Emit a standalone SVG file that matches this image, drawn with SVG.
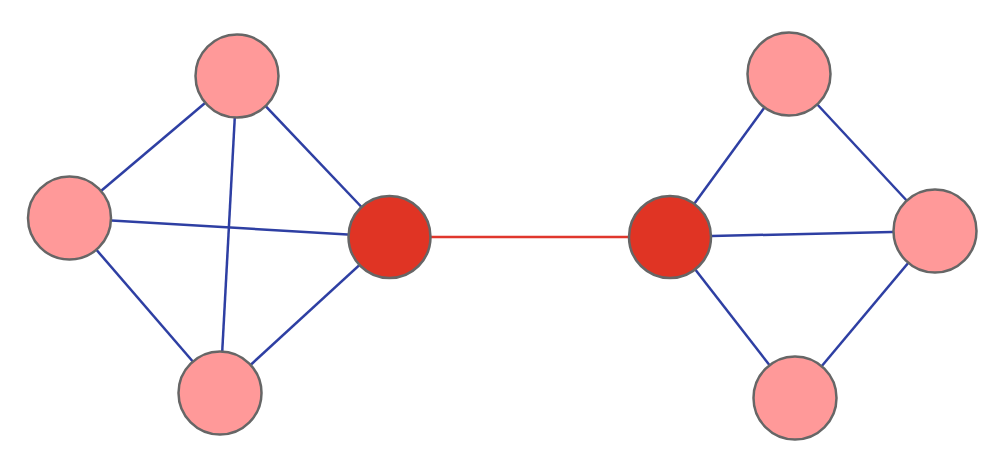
<svg xmlns="http://www.w3.org/2000/svg" width="997" height="451" viewBox="0 0 997 451">
<style>
.e{stroke:#2e3fa3;stroke-width:2.5;fill:none}
.b{stroke:#e0372c;stroke-width:2.5;fill:none}
.n{fill:#ff9999;stroke:#666;stroke-width:2.5}
.h{fill:#e03424;stroke:#666;stroke-width:2.5}
</style>
<rect width="997" height="451" fill="#fff"/>
<g id="edges">
<line class="e" x1="237" y1="76" x2="69" y2="218"/>
<line class="e" x1="237" y1="76" x2="220" y2="393"/>
<line class="e" x1="237" y1="76" x2="390" y2="237"/>
<line class="e" x1="69" y1="218" x2="390" y2="237"/>
<line class="e" x1="69" y1="218" x2="220" y2="393"/>
<line class="e" x1="220" y1="393" x2="390" y2="237"/>
<line class="b" x1="390" y1="237" x2="670" y2="237"/>
<line class="e" x1="670" y1="237" x2="789" y2="74"/>
<line class="e" x1="670" y1="237" x2="935" y2="231"/>
<line class="e" x1="670" y1="237" x2="795" y2="398"/>
<line class="e" x1="789" y1="74" x2="935" y2="231"/>
<line class="e" x1="935" y1="231" x2="795" y2="398"/>
</g>
<g id="n1"><circle class="n" cx="237" cy="76" r="41.5"/></g>
<g id="n2"><circle class="n" cx="69.5" cy="218" r="41.5"/></g>
<g id="n3"><circle class="n" cx="220" cy="393" r="41.5"/></g>
<g id="n4"><circle class="h" cx="389.5" cy="237" r="41"/></g>
<g id="n5"><circle class="h" cx="670" cy="237" r="41"/></g>
<g id="n6"><circle class="n" cx="789" cy="74" r="41.5"/></g>
<g id="n7"><circle class="n" cx="935" cy="231" r="41.5"/></g>
<g id="n8"><circle class="n" cx="795" cy="398" r="41.5"/></g>
</svg>
